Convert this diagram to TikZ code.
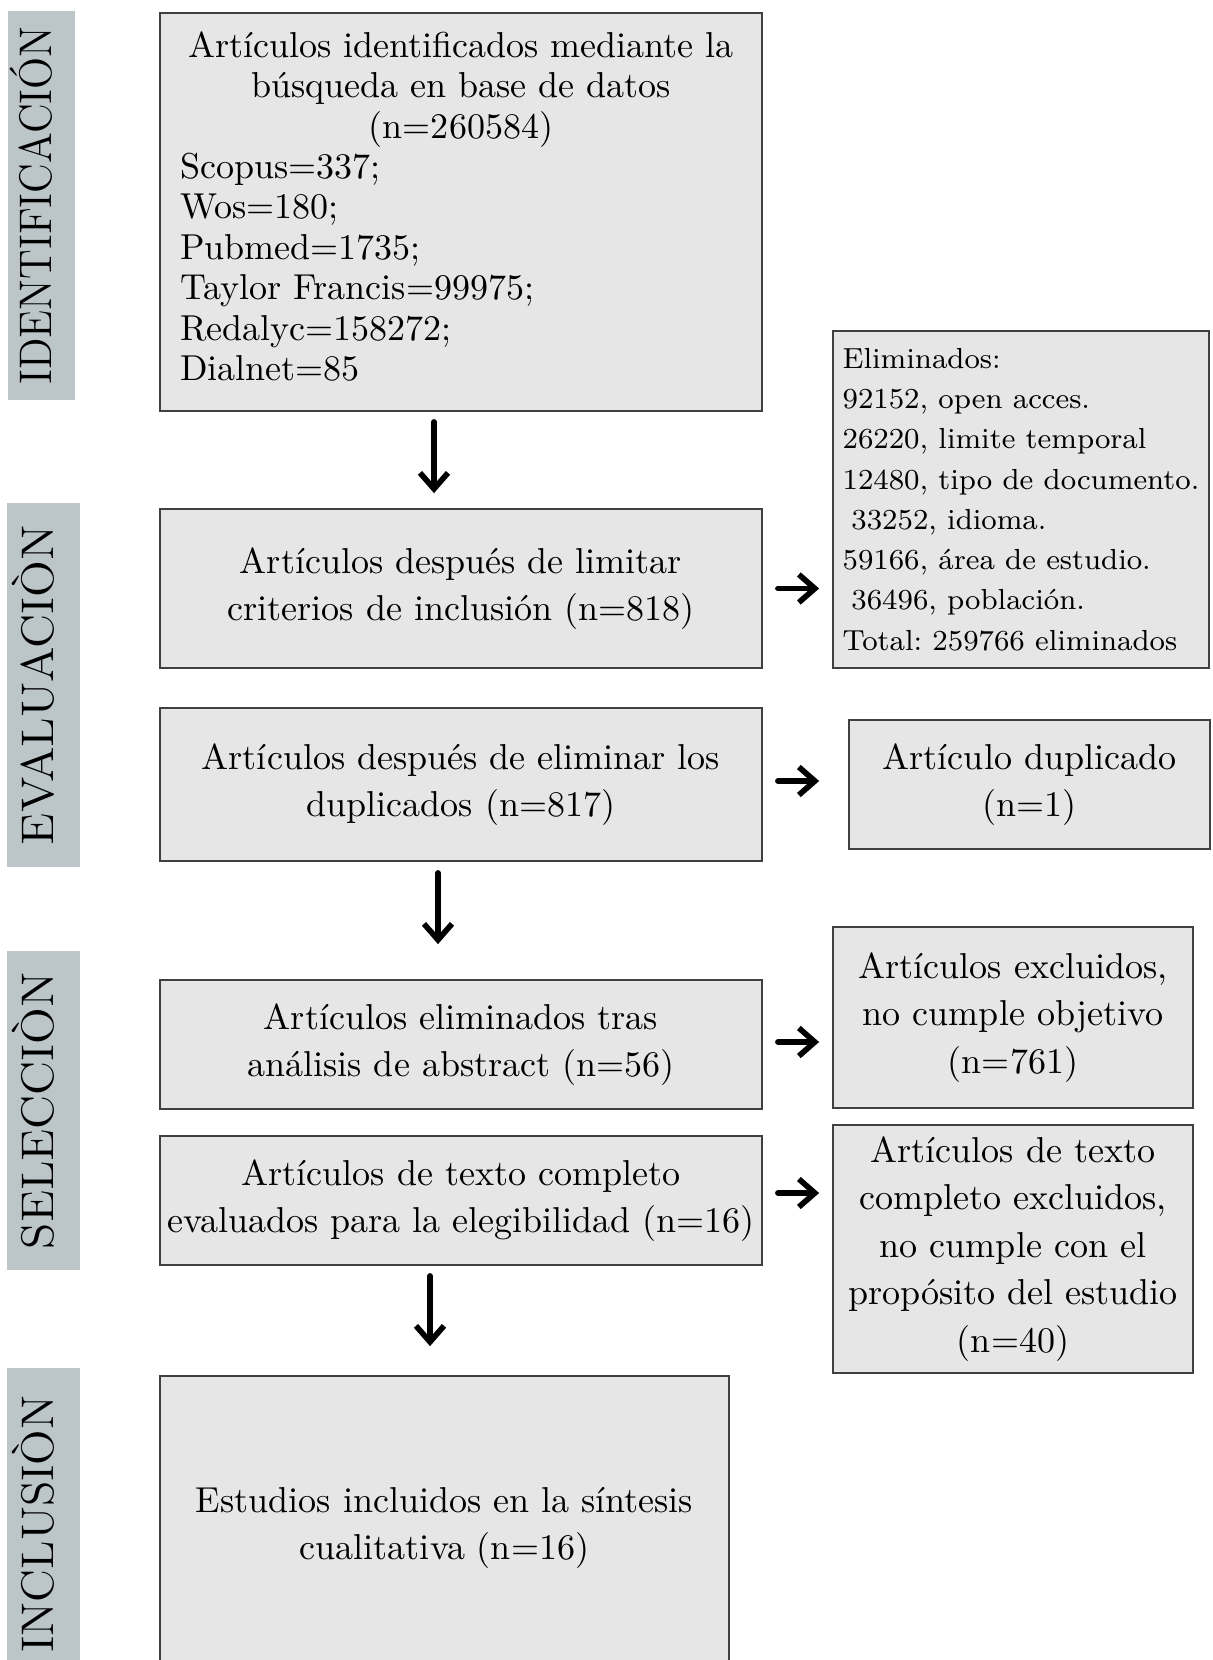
\documentclass[tikz,border=0pt]{standalone}
\usepackage{graphicx}
\usetikzlibrary{arrows.meta}

\definecolor{phasegray}{RGB}{188,197,200}
\definecolor{boxgray}{RGB}{230,230,230}
\definecolor{edgegray}{RGB}{64,64,64}

\begin{document}
\begin{tikzpicture}[
  stage/.style={draw=edgegray, fill=boxgray, line width=0.5pt, align=center,
                inner sep=0pt, font=\fontsize{10.25}{13.5}\selectfont},
  phase/.style={fill=phasegray, rotate=90, inner sep=0pt,
                text height=0.31cm, text depth=0.1cm,
                font=\fontsize{13}{13}\selectfont},
  arrow/.style={-{Straight Barb[length=1.6mm, width=2.8mm]}, line width=1.6pt,
                line cap=round},
]
  \useasboundingbox (0,0) rectangle (12.12,-16.6);

  % fases
  \node[phase, minimum width=3.89cm, minimum height=0.67cm] (fid) at (0.415,-2.055)
    {\resizebox{3.58cm}{\height}{IDENTIFICACIÓN}};
  \node[phase, minimum width=3.64cm, minimum height=0.73cm] (fev) at (0.435,-6.85)
    {\resizebox{3.20cm}{\height}{EVALUACIÒN}};
  \node[phase, minimum width=3.19cm, minimum height=0.73cm] (fsel) at (0.435,-11.105)
    {\resizebox{2.77cm}{\height}{SELECCIÒN}};
  \node[phase, minimum width=3.12cm, minimum height=0.73cm] (finc) at (0.435,-15.24)
    {\resizebox{2.57cm}{\height}{INCLUSIÒN}};

  % columna principal
  \node[stage, minimum width=6.02cm, minimum height=3.98cm, align=left,
        text width=5.62cm, inner xsep=0.2cm,
        font=\fontsize{10.25}{11.5}\selectfont] (ident) at (4.61,-2.12)
    {{\centering Artículos identificados mediante la\\ búsqueda en base de datos\\
      (n=260584)\par}
     Scopus=337;\\ Wos=180;\\ Pubmed=1735;\\ Taylor Francis=99975;\\
     Redalyc=158272;\\ Dialnet=85\rule[-0.12cm]{0pt}{0pt}};
  \node[stage, minimum width=6.02cm, minimum height=1.59cm] (limit) at (4.61,-5.885)
    {Artículos después de limitar\\ criterios de inclusión (n=818)};
  \node[stage, minimum width=6.02cm, minimum height=1.53cm] (dupl) at (4.61,-7.845)
    {Artículos después de eliminar los\\ duplicados (n=817)};
  \node[stage, minimum width=6.02cm, minimum height=1.29cm] (abstr) at (4.61,-10.445)
    {Artículos eliminados tras\\ análisis de abstract (n=56)};
  \node[stage, minimum width=6.02cm, minimum height=1.29cm] (fulltext) at (4.61,-12.005)
    {Artículos de texto completo\\ evaluados para la elegibilidad (n=16)};
  \node[stage, minimum width=5.69cm, minimum height=3.04cm] (incl) at (4.445,-15.28)
    {Estudios incluidos en la síntesis\\ cualitativa (n=16)};

  % columna derecha
  \node[stage, minimum width=3.76cm, minimum height=3.37cm, align=left,
        font=\fontsize{8.25}{11.45}\selectfont\frenchspacing] (elim) at (10.21,-4.995)
    {Eliminados:\\ 92152, open acces.\\ 26220, limite temporal\\
     12480, tipo de documento.\\ \hspace*{2.5pt}33252, idioma.\\
     59166, área de estudio.\\ \hspace*{2.5pt}36496, población.\\
     Total: 259766 eliminados};
  \node[stage, minimum width=3.61cm, minimum height=1.29cm] (dupnote) at (10.295,-7.845)
    {Artículo duplicado\\ (n=1)};
  \node[stage, minimum width=3.60cm, minimum height=1.81cm] (exclobj) at (10.13,-10.175)
    {Artículos excluidos,\\ no cumple objetivo\\ (n=761)};
  \node[stage, minimum width=3.60cm, minimum height=2.48cm] (exclfull) at (10.13,-12.49)
    {Artículos de texto\\ completo excluidos,\\ no cumple con el\\
     propósito del estudio\\ (n=40)};

  % flechas
  \draw[arrow, shorten <=0.1cm, shorten >=0.15cm]
    ([xshift=-0.27cm]ident.south) -- ([xshift=-0.27cm]limit.north);
  \draw[arrow, shorten <=0.11cm, shorten >=0.35cm]
    ([xshift=-0.23cm]dupl.south) -- ([xshift=-0.23cm]abstr.north);
  \draw[arrow, shorten <=0.1cm, shorten >=0.29cm]
    ([xshift=-0.31cm]fulltext.south) -- ([xshift=-0.31cm]fulltext.south |- incl.north);

  \draw[arrow, shorten <=0.15cm, shorten >=0.13cm]
    (limit.east) -- (limit.east -| elim.west);
  \draw[arrow, shorten <=0.15cm, shorten >=0.29cm]
    ([yshift=0.035cm]dupl.east) -- ([yshift=0.035cm]dupl.east -| dupnote.west);
  \draw[arrow, shorten <=0.15cm, shorten >=0.13cm]
    ([yshift=0.025cm]abstr.east) -- ([yshift=0.025cm]abstr.east -| exclobj.west);
  \draw[arrow, shorten <=0.15cm, shorten >=0.13cm]
    ([yshift=0.075cm]fulltext.east) -- ([yshift=0.075cm]fulltext.east -| exclfull.west);
\end{tikzpicture}
\end{document}
